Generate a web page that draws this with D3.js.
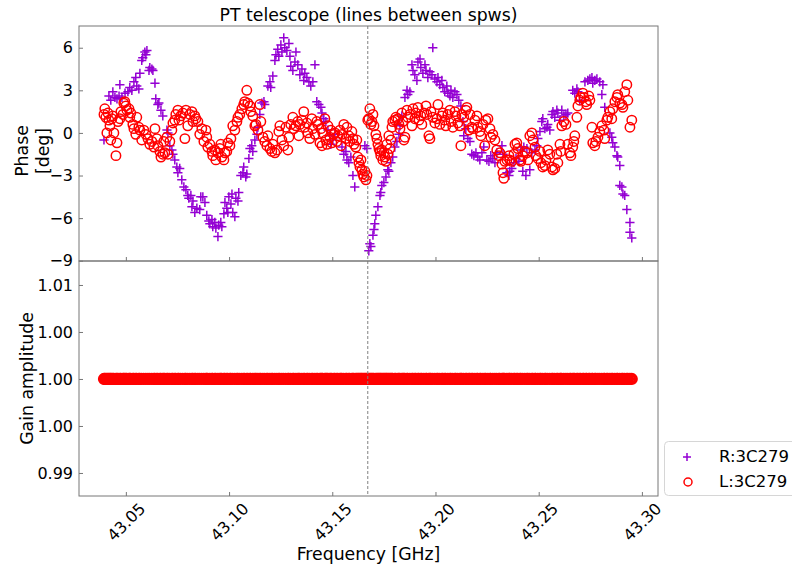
<!DOCTYPE html>
<html>
<head>
<meta charset="utf-8">
<script src="https://cdn.jsdelivr.net/npm/d3@7"></script>
<style>
  body { margin: 0; background: #fff; }
  text { font-family: "DejaVu Sans", sans-serif; }
</style>
</head>
<body>
<svg id="chart" width="792" height="566"></svg>
<script>
// ---- chart content ----
const chartTitle = "PT telescope (lines between spws)";
const seriesNames = ["R:3C279", "L:3C279"];
const freqTicks = [43.05, 43.10, 43.15, 43.20, 43.25, 43.30];
const phaseTicks = [-9, -6, -3, 0, 3, 6];
const gainTicks = [0.99, 0.995, 1.0, 1.005, 1.01];
const gainTickLabels = ["0.99", "1.00", "1.00", "1.00", "1.01"];
const spwBoundaryGHz = 43.1672;   // boundary between the two spectral windows
const unityGain = 1.0;            // every solution amplitude is 1.00

// R polarisation: [frequency GHz, phase deg]
const phaseR = [
  [43.0394,-0.5],[43.0418,2.6],[43.0427,2.3],[43.0437,2.9],[43.0447,2.5],[43.0457,2.4],[43.0467,2.6],
  [43.0471,3.4],[43.0481,2.5],[43.0496,2.8],[43.0510,2.9],[43.0519,3.2],[43.0529,3.0],[43.0539,3.6],
  [43.0548,3.9],[43.0553,3.3],[43.0563,3.1],[43.0568,4.2],[43.0577,5.1],[43.0582,5.3],[43.0592,5.7],
  [43.0597,5.5],[43.0602,5.8],[43.0612,4.4],[43.0616,4.6],[43.0626,4.5],[43.0631,4.4],[43.0641,3.5],
  [43.0645,2.4],[43.0655,2.0],[43.0660,2.1],[43.0670,1.6],[43.0679,1.2],[43.0699,0.2],[43.0704,0.0],
  [43.0713,-0.9],[43.0723,-1.2],[43.0728,-1.5],[43.0737,-1.9],[43.0747,-2.4],[43.0752,-2.8],[43.0761,-2.5],
  [43.0771,-3.3],[43.0781,-3.8],[43.0791,-4.0],[43.0800,-4.4],[43.0805,-4.6],[43.0815,-4.4],[43.0820,-5.2],
  [43.0825,-4.8],[43.0834,-5.6],[43.0844,-5.3],[43.0858,-5.4],[43.0863,-4.5],[43.0873,-4.5],[43.0883,-4.9],
  [43.0892,-5.8],[43.0902,-6.2],[43.0907,-6.4],[43.0917,-6.1],[43.0921,-6.6],[43.0931,-6.3],[43.0936,-6.7],
  [43.0946,-7.3],[43.0950,-6.5],[43.0960,-6.3],[43.0965,-6.6],[43.0975,-5.7],[43.0980,-4.9],[43.0989,-5.3],
  [43.0994,-5.6],[43.0999,-4.5],[43.1009,-5.0],[43.1014,-4.3],[43.1018,-5.6],[43.1028,-5.9],[43.1033,-4.6],
  [43.1043,-4.8],[43.1047,-4.2],[43.1057,-3.0],[43.1067,-2.8],[43.1071,-2.4],[43.1081,-3.1],[43.1086,-2.9],
  [43.1096,-1.8],[43.1101,-1.1],[43.1110,-0.9],[43.1115,-1.3],[43.1125,-0.5],[43.1135,-0.1],[43.1140,0.4],
  [43.1149,1.3],[43.1159,2.1],[43.1169,2.2],[43.1173,2.0],[43.1188,3.3],[43.1198,3.6],[43.1202,3.2],
  [43.1212,4.0],[43.1222,5.1],[43.1227,5.5],[43.1236,5.9],[43.1241,5.4],[43.1251,6.2],[43.1256,5.7],
  [43.1265,6.7],[43.1270,6.0],[43.1280,5.8],[43.1290,6.3],[43.1295,5.4],[43.1299,4.7],[43.1309,4.4],
  [43.1319,5.0],[43.1324,5.7],[43.1333,4.8],[43.1343,4.1],[43.1353,4.5],[43.1362,3.7],[43.1367,4.2],
  [43.1377,3.9],[43.1387,3.6],[43.1396,3.3],[43.1406,3.6],[43.1416,4.8],[43.1425,2.2],[43.1435,2.0],
  [43.1445,1.8],[43.1450,1.4],[43.1459,1.0],[43.1469,0.8],[43.1479,0.2],[43.1488,-0.2],[43.1493,-0.8],
  [43.1503,-0.5],[43.1513,-0.1],[43.1547,-1.0],[43.1556,-1.5],[43.1566,-1.3],[43.1571,-1.9],[43.1580,-2.1],
  [43.1590,-1.7],[43.1600,-3.0],[43.1609,-3.8],[43.1658,-0.9],[43.1668,-1.1],[43.1677,-8.3],[43.1682,-7.8],
  [43.1687,-8.0],[43.1697,-7.2],[43.1702,-6.8],[43.1706,-6.4],[43.1711,-5.8],[43.1721,-5.2],[43.1731,-4.4],
  [43.1735,-4.2],[43.1740,-3.7],[43.1750,-3.5],[43.1760,-3.1],[43.1769,-2.6],[43.1774,-2.7],[43.1784,-2.1],
  [43.1793,-1.7],[43.1803,-1.0],[43.1813,-0.6],[43.1823,-0.1],[43.1828,0.5],[43.1837,1.2],[43.1852,2.5],
  [43.1862,3.0],[43.1866,2.7],[43.1876,2.9],[43.1886,4.8],[43.1891,4.4],[43.1900,4.1],[43.1910,3.7],
  [43.1915,5.0],[43.1925,5.2],[43.1929,4.6],[43.1939,4.2],[43.1949,4.8],[43.1954,4.4],[43.1963,3.9],
  [43.1973,4.3],[43.1983,4.1],[43.1987,6.0],[43.1997,3.8],[43.2007,3.6],[43.2012,3.9],[43.2021,3.4],
  [43.2031,3.7],[43.2036,3.2],[43.2045,2.9],[43.2055,3.3],[43.2060,2.8],[43.2070,2.6],[43.2075,3.0],
  [43.2084,2.5],[43.2094,2.9],[43.2104,2.7],[43.2113,2.3],[43.2123,1.9],[43.2133,0.8],[43.2137,-0.2],
  [43.2147,0.3],[43.2157,-0.4],[43.2167,-0.6],[43.2176,-1.5],[43.2186,-1.6],[43.2196,-1.4],[43.2205,-1.7],
  [43.2215,-1.9],[43.2225,-1.4],[43.2234,-1.0],[43.2249,-1.9],[43.2259,-2.0],[43.2268,-1.6],[43.2278,-1.8],
  [43.2288,-2.1],[43.2297,-1.4],[43.2322,-0.9],[43.2327,-1.5],[43.2346,-2.8],[43.2356,-3.0],[43.2360,-2.7],
  [43.2370,-2.5],[43.2380,-2.1],[43.2390,-1.8],[43.2404,-2.0],[43.2414,-1.2],[43.2423,-2.7],[43.2428,-1.0],
  [43.2438,-3.0],[43.2443,-1.1],[43.2457,-2.6],[43.2467,-1.4],[43.2482,-1.2],[43.2491,-0.9],[43.2496,-0.4],
  [43.2506,0.1],[43.2515,0.8],[43.2520,1.0],[43.2530,0.3],[43.2540,0.4],[43.2544,0.6],[43.2554,0.2],
  [43.2564,1.3],[43.2569,1.5],[43.2578,1.1],[43.2588,1.6],[43.2593,1.4],[43.2603,0.9],[43.2612,1.6],
  [43.2622,1.2],[43.2632,1.3],[43.2641,1.4],[43.2665,3.0],[43.2675,2.8],[43.2685,3.1],[43.2690,2.9],
  [43.2699,2.3],[43.2724,3.6],[43.2738,3.7],[43.2748,3.8],[43.2758,3.9],[43.2762,3.5],[43.2772,3.7],
  [43.2782,3.8],[43.2796,3.6],[43.2806,2.7],[43.2811,3.4],[43.2820,1.8],[43.2845,0.0],[43.2854,-0.3],
  [43.2859,-0.7],[43.2869,-1.0],[43.2879,-1.6],[43.2883,-1.7],[43.2893,-2.3],[43.2893,-3.7],[43.2903,-3.8],
  [43.2908,-4.3],[43.2917,-4.4],[43.2927,-5.4],[43.2942,-6.3],[43.2942,-7.0],[43.2951,-7.4]
];

// L polarisation: [frequency GHz, phase deg]
const phaseL = [
  [43.0394,1.3],[43.0398,1.7],[43.0403,1.1],[43.0408,0.0],[43.0413,1.4],[43.0418,0.9],[43.0423,0.5],
  [43.0427,-0.5],[43.0432,1.0],[43.0437,1.2],[43.0442,0.0],[43.0452,-1.6],[43.0457,-0.7],[43.0462,0.8],
  [43.0471,1.0],[43.0476,1.5],[43.0486,1.3],[43.0490,2.1],[43.0495,2.2],[43.0500,1.9],[43.0505,1.6],
  [43.0515,1.7],[43.0519,1.1],[43.0524,1.4],[43.0534,0.6],[43.0539,0.3],[43.0548,-0.1],[43.0553,1.1],
  [43.0563,0.4],[43.0568,0.2],[43.0577,-0.5],[43.0587,0.2],[43.0597,-0.1],[43.0607,-0.4],[43.0616,-0.8],
  [43.0626,-0.6],[43.0636,-1.0],[43.0641,0.3],[43.0650,-0.4],[43.0655,-0.9],[43.0665,-1.3],[43.0670,-1.7],
  [43.0679,-1.5],[43.0684,-0.6],[43.0689,-1.4],[43.0699,-0.3],[43.0704,-1.5],[43.0713,-0.6],[43.0723,0.2],
  [43.0728,0.7],[43.0737,0.9],[43.0742,1.3],[43.0752,1.6],[43.0757,0.9],[43.0766,1.2],[43.0776,1.4],
  [43.0786,-0.4],[43.0791,1.6],[43.0800,0.5],[43.0810,1.3],[43.0820,1.5],[43.0825,0.8],[43.0834,1.2],
  [43.0839,1.0],[43.0849,0.8],[43.0858,-0.1],[43.0868,0.3],[43.0878,-0.6],[43.0888,0.2],[43.0892,-0.3],
  [43.0897,-1.0],[43.0907,-0.8],[43.0917,-1.3],[43.0921,-1.6],[43.0931,-1.2],[43.0936,-1.9],[43.0946,-1.4],
  [43.0955,-1.1],[43.0960,-0.8],[43.0965,-1.7],[43.0975,-1.9],[43.0980,-1.4],[43.0989,-1.3],[43.0994,-0.7],
  [43.1004,-0.9],[43.1009,-0.4],[43.1018,0.5],[43.1028,0.2],[43.1038,0.8],[43.1043,1.1],[43.1052,1.3],
  [43.1062,1.7],[43.1071,2.0],[43.1076,2.2],[43.1086,3.0],[43.1091,2.1],[43.1101,1.9],[43.1105,1.5],
  [43.1115,1.2],[43.1125,0.5],[43.1130,0.6],[43.1140,0.2],[43.1149,2.0],[43.1154,0.8],[43.1164,-0.3],
  [43.1173,-0.6],[43.1183,-0.9],[43.1188,-0.2],[43.1198,-1.1],[43.1207,-1.3],[43.1212,-0.8],[43.1222,-1.4],
  [43.1232,-1.2],[43.1241,0.1],[43.1246,0.5],[43.1256,-0.5],[43.1265,-0.9],[43.1275,0.4],[43.1285,-1.2],
  [43.1290,-0.3],[43.1299,0.6],[43.1309,1.1],[43.1314,0.3],[43.1324,0.5],[43.1333,0.8],[43.1338,-0.2],
  [43.1343,0.6],[43.1353,0.9],[43.1362,1.5],[43.1367,0.4],[43.1377,0.7],[43.1382,0.0],[43.1391,-0.4],
  [43.1401,1.0],[43.1406,0.3],[43.1416,-0.1],[43.1425,0.8],[43.1430,0.6],[43.1440,-0.7],[43.1445,0.3],
  [43.1450,-0.9],[43.1454,0.0],[43.1464,1.0],[43.1469,-0.5],[43.1474,-0.8],[43.1479,0.5],[43.1488,-0.3],
  [43.1493,0.2],[43.1498,-0.7],[43.1508,-0.1],[43.1513,0.0],[43.1522,-0.6],[43.1527,-0.2],[43.1537,0.2],
  [43.1542,-0.9],[43.1547,-0.1],[43.1556,0.6],[43.1566,-0.4],[43.1571,0.4],[43.1580,-0.2],[43.1585,-0.6],
  [43.1595,0.1],[43.1600,-0.4],[43.1605,-0.8],[43.1614,-1.0],[43.1619,-0.5],[43.1624,-1.7],[43.1629,-2.1],
  [43.1634,-2.4],[43.1639,-1.9],[43.1643,-2.6],[43.1648,-2.9],[43.1653,-3.1],[43.1658,-2.7],[43.1663,-3.3],
  [43.1668,-3.0],[43.1672,0.9],[43.1677,1.0],[43.1682,1.7],[43.1687,0.6],[43.1692,0.8],[43.1697,1.3],
  [43.1702,0.5],[43.1711,-0.1],[43.1716,-0.4],[43.1721,-0.8],[43.1726,-1.1],[43.1731,-1.3],[43.1735,-1.6],
  [43.1740,-1.2],[43.1745,-1.9],[43.1750,-1.4],[43.1755,-1.7],[43.1760,-2.0],[43.1764,-0.8],[43.1769,-1.5],
  [43.1774,-0.2],[43.1779,-1.1],[43.1784,-0.5],[43.1789,0.4],[43.1793,0.8],[43.1803,0.9],[43.1808,1.1],
  [43.1818,1.0],[43.1823,0.6],[43.1828,0.3],[43.1837,1.4],[43.1842,0.8],[43.1847,-0.5],[43.1852,-0.3],
  [43.1862,1.6],[43.1866,1.1],[43.1876,1.3],[43.1886,0.5],[43.1891,1.7],[43.1900,1.0],[43.1905,1.4],
  [43.1915,1.8],[43.1920,0.9],[43.1929,1.2],[43.1934,0.6],[43.1944,1.4],[43.1954,1.9],[43.1958,1.3],
  [43.1968,-0.2],[43.1973,-0.4],[43.1978,1.5],[43.1987,1.1],[43.1997,0.7],[43.2007,1.0],[43.2012,2.0],
  [43.2021,0.6],[43.2031,1.2],[43.2036,1.4],[43.2045,0.9],[43.2050,0.5],[43.2060,1.3],[43.2070,1.6],
  [43.2075,0.8],[43.2084,0.4],[43.2094,1.5],[43.2099,1.2],[43.2108,0.7],[43.2118,0.5],[43.2123,-0.9],
  [43.2128,1.3],[43.2137,1.1],[43.2147,1.6],[43.2152,1.8],[43.2162,0.2],[43.2167,1.3],[43.2176,0.4],
  [43.2181,0.3],[43.2191,0.9],[43.2201,1.2],[43.2205,0.4],[43.2215,0.1],[43.2220,-0.2],[43.2230,0.6],
  [43.2239,-0.9],[43.2244,0.9],[43.2254,1.0],[43.2264,0.3],[43.2268,-0.3],[43.2278,-0.1],[43.2288,-0.5],
  [43.2297,-1.2],[43.2307,-1.6],[43.2312,-1.4],[43.2322,-2.2],[43.2327,-2.8],[43.2331,-3.2],[43.2336,-2.0],
  [43.2346,-1.9],[43.2356,-1.6],[43.2360,-1.9],[43.2370,-2.0],[43.2380,-1.5],[43.2385,-0.8],[43.2394,-0.7],
  [43.2399,-1.1],[43.2409,-1.9],[43.2414,-2.0],[43.2423,-1.6],[43.2433,-1.3],[43.2443,-1.4],[43.2448,-1.9],
  [43.2457,-0.2],[43.2467,0.0],[43.2472,-0.5],[43.2482,-1.0],[43.2486,-1.6],[43.2496,-1.8],[43.2506,-1.3],
  [43.2511,-2.1],[43.2520,-2.4],[43.2530,-2.3],[43.2535,-1.9],[43.2544,-1.2],[43.2554,-1.5],[43.2564,-2.4],
  [43.2569,-2.6],[43.2578,-2.5],[43.2588,-1.5],[43.2593,-2.1],[43.2603,-0.8],[43.2607,-1.3],[43.2612,0.5],
  [43.2622,0.8],[43.2632,0.6],[43.2641,-0.8],[43.2651,-1.4],[43.2656,-1.6],[43.2665,-1.0],[43.2670,-0.6],
  [43.2675,-0.2],[43.2685,1.1],[43.2690,1.9],[43.2699,2.3],[43.2704,2.5],[43.2714,2.8],[43.2719,2.5],
  [43.2729,2.2],[43.2733,2.0],[43.2743,2.6],[43.2748,2.3],[43.2758,0.4],[43.2762,-0.7],[43.2772,-0.9],
  [43.2777,-0.6],[43.2787,-0.3],[43.2796,0.1],[43.2806,0.5],[43.2816,0.2],[43.2820,-0.4],[43.2830,0.9],
  [43.2835,1.1],[43.2845,1.5],[43.2854,1.0],[43.2859,1.7],[43.2869,2.2],[43.2879,2.5],[43.2883,2.7],
  [43.2893,2.1],[43.2903,2.0],[43.2908,1.8],[43.2917,2.9],[43.2927,3.4],[43.2932,2.3],[43.2942,0.4],
  [43.2951,0.9]
];

// ---- layout ----
const W = 792, H = 566;
const plotLeft = 79, plotRight = 658;
const phaseTop = 26, phaseBottom = 261;
const gainTop = 261, gainBottom = 496;
const colorR = "#9400d3", colorL = "#ff0000";
const spineColor = "#777";

const svg = d3.select("#chart");
svg.append("rect").attr("width", W).attr("height", H).attr("fill", "#fff");

const x = d3.scaleLinear().domain([43.0273, 43.3078]).range([plotLeft, plotRight]);
const yPhase = d3.scaleLinear().domain([-9.02, 7.53]).range([phaseBottom, phaseTop]);
const yGain = d3.scaleLinear().domain([0.98755, 1.01255]).range([gainBottom, gainTop]);

const fmtMinus = v => (v < 0 ? "\u2212" + Math.abs(v) : String(v));

function styleAxis(g) {
  g.select(".domain").remove();
  g.selectAll(".tick line").attr("stroke", spineColor);
  g.selectAll(".tick text").attr("fill", "#000").attr("font-size", 16)
    .attr("font-family", "DejaVu Sans, sans-serif");
}

// clip regions for the markers
const defs = svg.append("defs");
defs.append("clipPath").attr("id", "clipPhase").append("rect")
  .attr("x", plotLeft).attr("y", phaseTop).attr("width", plotRight - plotLeft).attr("height", phaseBottom - phaseTop);
defs.append("clipPath").attr("id", "clipGain").append("rect")
  .attr("x", plotLeft).attr("y", gainTop).attr("width", plotRight - plotLeft).attr("height", gainBottom - gainTop);

// marker helpers
const plusPath = s => `M${-s},0H${s}M0,${-s}V${s}`;
function drawPlus(g, data, px, py) {
  g.selectAll(null).data(data).enter().append("path")
    .attr("d", plusPath(4.6))
    .attr("transform", d => `translate(${px(d)},${py(d)})`)
    .attr("stroke", colorR).attr("stroke-width", 1.5).attr("fill", "none");
}
function drawCircle(g, data, px, py, r, sw) {
  g.selectAll(null).data(data).enter().append("circle")
    .attr("cx", px).attr("cy", py).attr("r", r)
    .attr("stroke", colorL).attr("stroke-width", sw).attr("fill", "none");
}

// ---- phase panel ----
const gPhase = svg.append("g").attr("clip-path", "url(#clipPhase)");
drawPlus(gPhase, phaseR, d => x(d[0]), d => yPhase(d[1]));
drawCircle(gPhase, phaseL, d => x(d[0]), d => yPhase(d[1]), 4.7, 1.5);

// ---- gain panel (densely packed solutions merge into a solid band) ----
const gainR = phaseR.map(d => [d[0], unityGain]);
const gainL = phaseL.map(d => [d[0], unityGain]);
const gGain = svg.append("g").attr("clip-path", "url(#clipGain)");
drawPlus(gGain, gainR, d => x(d[0]), d => yGain(d[1]));
drawCircle(gGain, gainL, d => x(d[0]), d => yGain(d[1]), 4.8, 2.6);

// spw boundary
svg.append("line")
  .attr("x1", x(spwBoundaryGHz)).attr("x2", x(spwBoundaryGHz))
  .attr("y1", phaseTop).attr("y2", gainBottom)
  .attr("stroke", "#808080").attr("stroke-width", 1).attr("stroke-dasharray", "3,2");

// ---- axes ----
svg.append("g").attr("transform", `translate(${plotLeft},0)`)
  .call(d3.axisLeft(yPhase).tickValues(phaseTicks).tickFormat(fmtMinus).tickSize(-4).tickPadding(6))
  .call(styleAxis);

svg.append("g").attr("transform", `translate(${plotLeft},0)`)
  .call(d3.axisLeft(yGain).tickValues(gainTicks).tickFormat((d, i) => gainTickLabels[i]).tickSize(-4).tickPadding(6))
  .call(styleAxis);

svg.append("g").attr("transform", `translate(0,${phaseBottom})`)
  .call(d3.axisBottom(x).tickValues(freqTicks).tickFormat("").tickSize(-4))
  .call(styleAxis);

const xAxisBottom = svg.append("g").attr("transform", `translate(0,${gainBottom})`)
  .call(d3.axisBottom(x).tickValues(freqTicks).tickFormat(d3.format(".2f")).tickSize(-4))
  .call(styleAxis);
xAxisBottom.selectAll(".tick text")
  .attr("y", null).attr("dy", null)
  .attr("transform", "translate(0,26) rotate(-45)")
  .attr("text-anchor", "middle")
  .attr("dominant-baseline", "central");

// frames
[[phaseTop, phaseBottom], [gainTop, gainBottom]].forEach(([t, b]) => {
  svg.append("rect").attr("x", plotLeft).attr("y", t)
    .attr("width", plotRight - plotLeft).attr("height", b - t)
    .attr("fill", "none").attr("stroke", spineColor).attr("stroke-width", 1);
});

// ---- labels ----
svg.append("text").attr("x", (plotLeft + plotRight) / 2).attr("y", 21)
  .attr("text-anchor", "middle").attr("font-size", 17.3).text(chartTitle);

svg.append("text").attr("x", (plotLeft + plotRight) / 2).attr("y", 560)
  .attr("text-anchor", "middle").attr("font-size", 17.3).text("Frequency [GHz]");

const phaseLabel = svg.append("text")
  .attr("transform", `translate(28,151) rotate(-90)`)
  .attr("text-anchor", "middle").attr("font-size", 17.3);
phaseLabel.append("tspan").attr("x", 0).attr("dy", 0).text("Phase");
phaseLabel.append("tspan").attr("x", 0).attr("dy", 21).text("[deg]");

svg.append("text")
  .attr("transform", `translate(33,${(gainTop + gainBottom) / 2}) rotate(-90)`)
  .attr("text-anchor", "middle").attr("font-size", 17.3).text("Gain amplitude");

// ---- legend ----
const lg = svg.append("g");
lg.append("rect").attr("x", 664.5).attr("y", 441.5).attr("width", 140).attr("height", 54)
  .attr("rx", 4).attr("fill", "#fff").attr("fill-opacity", 0.8)
  .attr("stroke", "#d6d6d6").attr("stroke-width", 1);
lg.append("path").attr("d", plusPath(4)).attr("transform", "translate(687,457)")
  .attr("stroke", colorR).attr("stroke-width", 1.5).attr("fill", "none");
lg.append("circle").attr("cx", 688).attr("cy", 482).attr("r", 4)
  .attr("stroke", colorL).attr("stroke-width", 1.5).attr("fill", "none");
lg.append("text").attr("x", 719).attr("y", 462).attr("font-size", 16.5).text(seriesNames[0]);
lg.append("text").attr("x", 719).attr("y", 487).attr("font-size", 16.5).text(seriesNames[1]);
</script>
</body>
</html>
